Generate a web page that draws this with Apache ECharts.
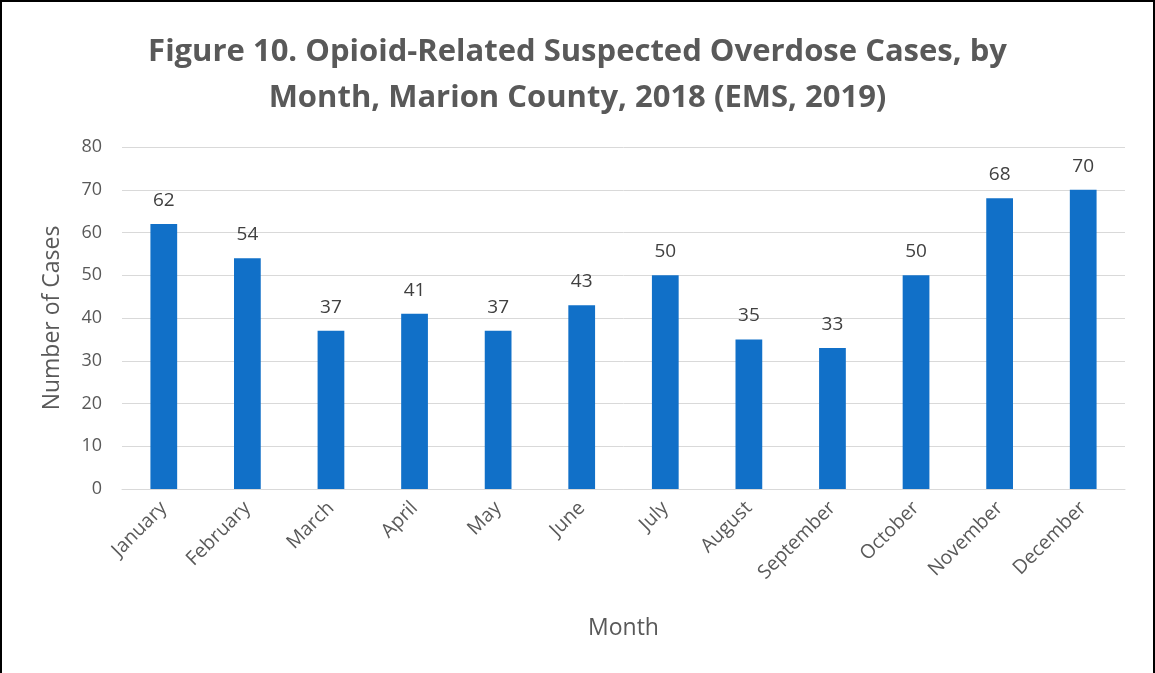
<!DOCTYPE html>
<html>
<head>
<meta charset="utf-8">
<script src="https://cdn.jsdelivr.net/npm/echarts@6/dist/echarts.min.js"></script>
<style>
  html, body { margin: 0; padding: 0; background: #fff; }
  #chart {
    width: 1155px;
    height: 673px;
    box-sizing: border-box;
    border-left: 2px solid #000;
    border-top: 2px solid #000;
    border-right: 2px solid #000;
  }
</style>
</head>
<body>
<div id="chart"></div>
<script>
// data
const months = ['January', 'February', 'March', 'April', 'May', 'June',
  'July', 'August', 'September', 'October', 'November', 'December']
const cases = [62, 54, 37, 41, 37, 43, 50, 35, 33, 50, 68, 70]
const titleLines = [
  'Figure 10. Opioid-Related Suspected Overdose Cases, by',
  'Month, Marion County, 2018 (EMS, 2019)',
]

const textColor = '#595959'
const fontFamily = '"Open Sans", "Noto Sans", sans-serif'

const chart = echarts.init(document.getElementById('chart'))

const option = {
  animation: false,
  textStyle: {fontFamily: fontFamily},
  title: {
    text: titleLines.join('\n'),
    left: 'center',
    top: 22,
    textStyle: {
      fontFamily: fontFamily,
      fontSize: 31,
      fontWeight: 'bold',
      color: textColor,
      lineHeight: 46,
    },
  },
  grid: {
    left: 120,
    right: 28,
    top: 145,
    bottom: 184,
    containLabel: false,
  },
  xAxis: {
    type: 'category',
    data: months,
    name: 'Month',
    nameLocation: 'middle',
    nameGap: 128,
    nameTextStyle: {fontSize: 23, color: textColor},
    axisLine: {lineStyle: {color: '#d9d9d9', width: 1}},
    axisTick: {show: false},
    axisLabel: {
      rotate: 45,
      fontSize: 19.5,
      color: textColor,
      margin: 16,
      interval: 0,
    },
  },
  yAxis: {
    type: 'value',
    min: 0,
    max: 80,
    interval: 10,
    name: 'Number of Cases',
    nameLocation: 'middle',
    nameGap: 58,
    nameTextStyle: {fontSize: 23, color: textColor},
    axisLine: {show: false},
    axisTick: {show: false},
    axisLabel: {fontSize: 18, color: textColor, margin: 20},
    splitLine: {lineStyle: {color: '#d9d9d9', width: 1}},
  },
  series: [
    {
      type: 'bar',
      data: cases,
      barWidth: '32%',
      itemStyle: {color: '#1170c8'},
      label: {
        show: true,
        position: 'top',
        distance: 14,
        fontSize: 19,
        color: '#404040',
      },
    },
  ],
}

chart.setOption(option)
</script>
</body>
</html>
